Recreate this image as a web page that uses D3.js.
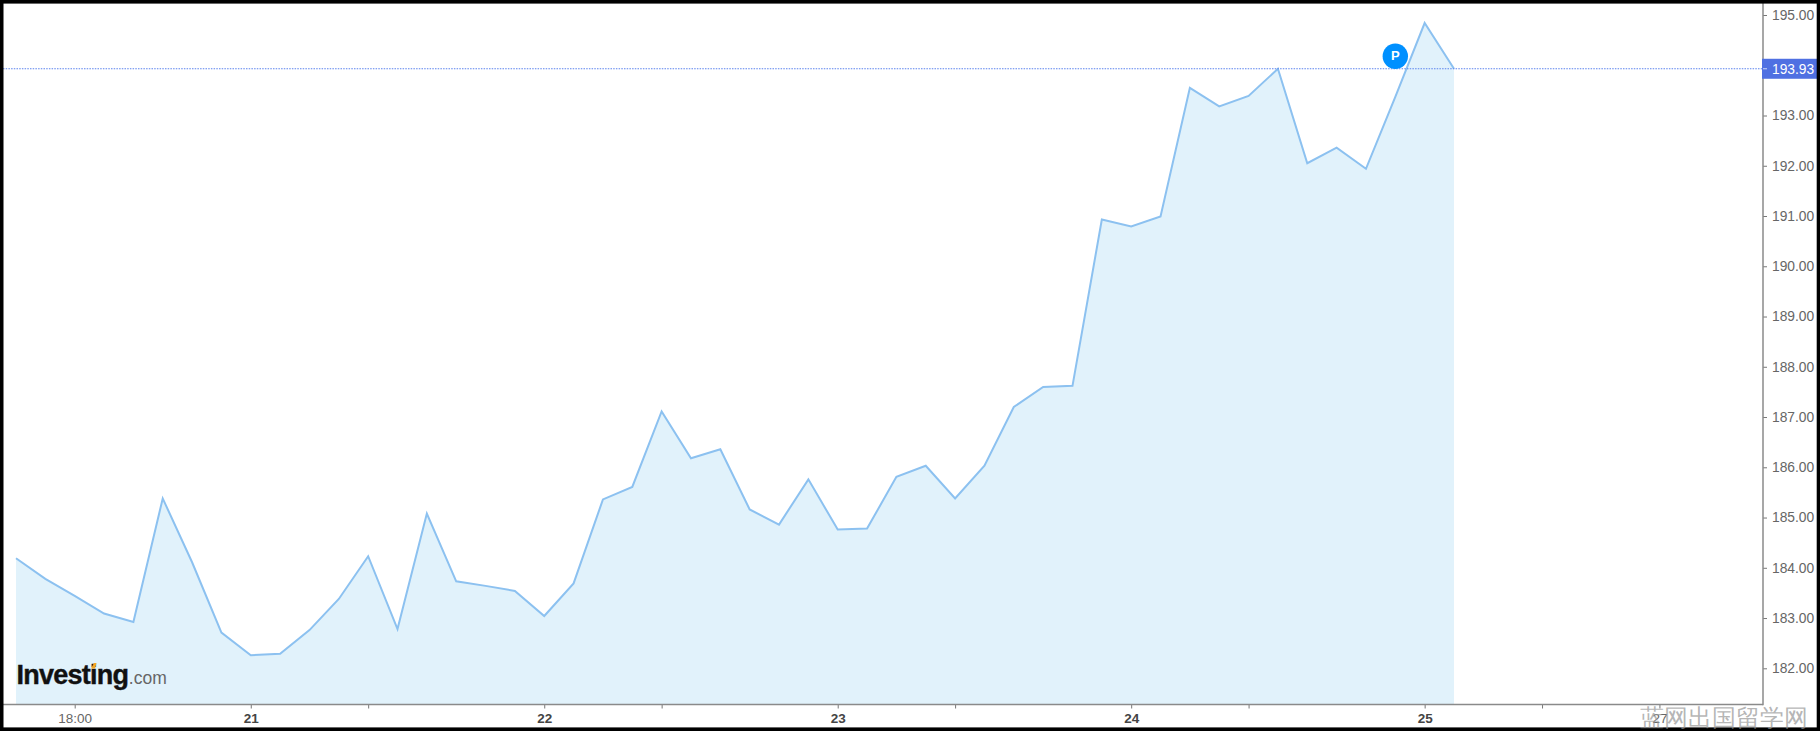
<!DOCTYPE html>
<html>
<head>
<meta charset="utf-8">
<script src="https://cdn.jsdelivr.net/npm/d3@7/dist/d3.min.js"></script>
<style>
html,body{margin:0;padding:0;background:#fff;overflow:hidden}
svg{display:block}
text{font-family:"Liberation Sans",Arial,sans-serif}
</style>
</head>
<body>
<svg id="c" width="1820" height="731"></svg>
<script>
const prices = [184.19,183.78,183.44,183.09,182.92,185.38,184.11,182.71,182.26,182.29,
  182.76,183.38,184.23,182.78,185.08,183.73,183.64,183.54,183.04,183.69,
  185.36,185.61,187.11,186.18,186.36,185.16,184.86,185.76,184.76,184.78,
  185.81,186.03,185.38,186.03,187.20,187.60,187.62,190.93,190.79,190.99,
  193.55,193.18,193.39,193.93,192.05,192.36,191.94,193.37,194.84,193.93];
const yTicks = [182,183,184,185,186,187,188,189,190,191,192,193,194,195];
const xTickIndex = [2,8,12,18,22,28,32,38,42,48,52,56];
const xTickLabels = ["18:00","21","","22","","23","","24","","25","","27"];
const boldLabels = ["21","22","23","24","25"];
const lastPrice = 193.93;
const markerIndex = 47;
const markerPrice = 194.18;

const W = 1820, H = 731;
const axisX = 1763, axisY = 704.5;
const svg = d3.select("#c");
const x = d3.scaleLinear().domain([0,49]).range([16,1454]);
const y = d3.scaleLinear().domain([182,195]).range([668.3,15]);

const area = d3.area().x((d,i)=>x(i)).y0(axisY).y1(d=>y(d));
const line = d3.line().x((d,i)=>x(i)).y(d=>y(d));

svg.append("path").datum(prices).attr("d",area).attr("fill","#e1f2fb");
svg.append("path").datum(prices).attr("d",line).attr("fill","none")
  .attr("stroke","#8cc1f0").attr("stroke-width",2).attr("stroke-linejoin","miter");

// current price dotted line
svg.append("line").attr("x1",3).attr("x2",axisX).attr("y1",y(lastPrice)).attr("y2",y(lastPrice))
  .attr("stroke","#5b83ee").attr("stroke-width",1.1).attr("stroke-dasharray","1.5 1.2");

// x axis
const gx = svg.append("g").attr("transform",`translate(0,${axisY})`)
  .call(d3.axisBottom(x).tickValues(xTickIndex).tickSize(4).tickPadding(5)
    .tickFormat((d,i)=>xTickLabels[i]));
gx.select(".domain").remove();
gx.selectAll("line").attr("stroke","#777");
gx.selectAll("text").attr("font-size",13.5).attr("font-family",'"Liberation Sans",Arial,sans-serif')
  .attr("fill",function(){return boldLabels.includes(this.textContent)?"#444":"#666";})
  .attr("font-weight",function(){return boldLabels.includes(this.textContent)?"bold":"normal";});
svg.append("line").attr("x1",3).attr("x2",axisX).attr("y1",axisY).attr("y2",axisY)
  .attr("stroke","#8a8a8a").attr("stroke-width",1.5);

// y axis
const gy = svg.append("g").attr("transform",`translate(${axisX},0)`)
  .call(d3.axisRight(y).tickValues(yTicks).tickSize(4).tickPadding(5).tickFormat(d3.format(".2f")));
gy.select(".domain").remove();
gy.selectAll("line").attr("stroke","#777");
gy.selectAll("text").attr("font-size",13.8).attr("fill","#666")
  .attr("font-family",'"Liberation Sans",Arial,sans-serif');
// the 194 tick label sits under the price tag in the reference
gy.selectAll(".tick").filter(d=>d===194).remove();
svg.append("line").attr("x1",axisX).attr("x2",axisX).attr("y1",3).attr("y2",axisY+0.75)
  .attr("stroke","#8a8a8a").attr("stroke-width",1.5);

// price tag
svg.append("rect").attr("x",axisX-1).attr("y",y(lastPrice)-10).attr("width",55).attr("height",20).attr("fill","#4f70e2");
svg.append("line").attr("x1",axisX).attr("x2",axisX+4).attr("y1",y(lastPrice)).attr("y2",y(lastPrice)).attr("stroke","#cfd8f8");
svg.append("text").attr("x",axisX+9).attr("y",y(lastPrice)+5).attr("font-size",13.8).attr("fill","#fff")
  .text(d3.format(".2f")(lastPrice));

// P marker
const mg = svg.append("g").attr("transform",`translate(${x(markerIndex)},${y(markerPrice)})`);
mg.append("circle").attr("r",12.7).attr("fill","#0090ff");
mg.append("text").attr("text-anchor","middle").attr("y",4).attr("font-size",13).attr("font-weight","bold")
  .attr("fill","#fff").attr("font-family",'"DejaVu Sans",sans-serif').text("P");

// logo
const logo = svg.append("text").attr("x",16.5).attr("y",684);
logo.append("tspan").attr("font-size",27).attr("font-weight","bold").attr("fill","#111").attr("letter-spacing",-0.75)
  .attr("stroke","#111").attr("stroke-width",0.4).text("Investing");
logo.append("tspan").attr("font-size",17.5).attr("fill","#666").attr("dx",0.5).text(".com");
svg.append("path").attr("d","M91 668.5 L94 663 L96.5 663 L95 668.5 Z").attr("fill","#f5a623");

// outer frame
svg.append("rect").attr("x",1.7).attr("y",1.8).attr("width",W-3.2).attr("height",727.4)
  .attr("fill","none").attr("stroke","#000").attr("stroke-width",3.6);

// watermark
svg.append("text").attr("x",1640).attr("y",725.5).attr("font-size",23.5)
  .attr("font-family",'"Noto Sans CJK SC",sans-serif').attr("fill","#959595").attr("fill-opacity",0.7)
  .text("蓝网出国留学网");
</script>
</body>
</html>
